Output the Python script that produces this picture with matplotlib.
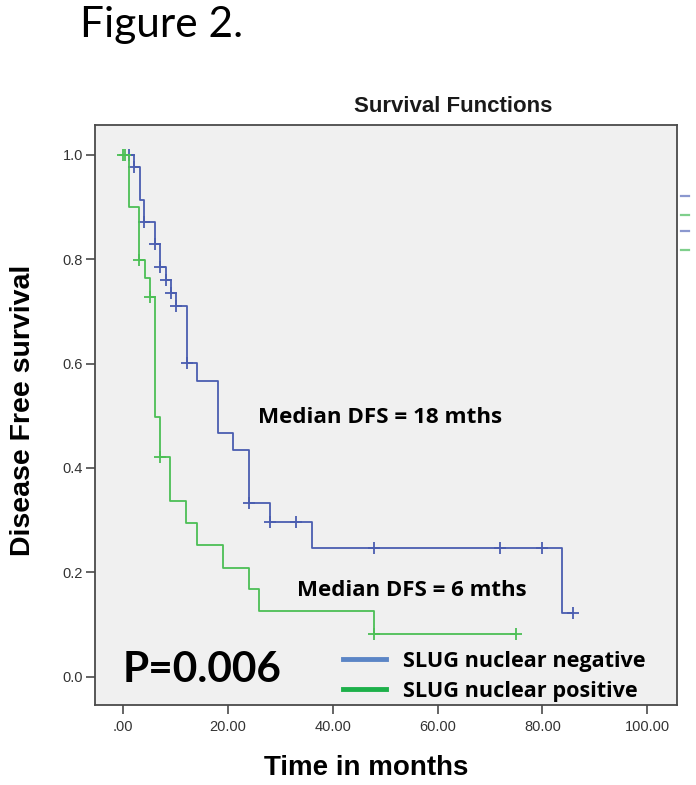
import numpy as np
import matplotlib
matplotlib.use("Agg")
import matplotlib.pyplot as plt
from matplotlib.lines import Line2D

# ---- data ----
neg_times = [0, 2.1, 3.2, 4.0, 6.0, 7.1, 8.1, 9.1, 10.0, 12.1, 14.1, 18.0, 21.0, 24.0, 28.1, 36.0, 83.8]
neg_surv = [1.0, 0.977, 0.914, 0.872, 0.830, 0.785, 0.761, 0.736, 0.710, 0.601, 0.567, 0.467, 0.434, 0.333, 0.296, 0.247, 0.123]
neg_censor = [1.1, 2.1, 4.0, 6.0, 7.1, 8.1, 9.1, 10.0, 12.1, 24.0, 28.1, 33.0, 47.8, 71.9, 79.9, 85.9]
neg_end = 85.9

pos_times = [0, 1.1, 3.0, 4.1, 5.1, 6.1, 7.1, 9.0, 11.9, 14.1, 19.0, 24.0, 26.0, 47.8]
pos_surv = [1.0, 0.899, 0.799, 0.764, 0.727, 0.497, 0.421, 0.336, 0.294, 0.252, 0.209, 0.168, 0.126, 0.082]
pos_censor = [-0.1, 0.3, 3.0, 5.1, 7.1, 47.8, 75.0]
pos_end = 75.0

x_ticks = [0, 20, 40, 60, 80, 100]
x_ticklabels = [".00", "20.00", "40.00", "60.00", "80.00", "100.00"]
y_ticks = [0.0, 0.2, 0.4, 0.6, 0.8, 1.0]
y_ticklabels = ["0.0", "0.2", "0.4", "0.6", "0.8", "1.0"]

group_labels = ["SLUG nuclear negative", "SLUG nuclear positive"]
median_texts = ["Median DFS = 18 mths", "Median DFS = 6 mths"]
p_text = "P=0.006"

BLUE = "#4a5db0"
GREEN = "#4cbf55"
LEG_BLUE = "#5b85c6"
LEG_GREEN = "#1db04a"

W, H = 696, 785
fig = plt.figure(figsize=(W / 100, H / 100), dpi=100)
fig.patch.set_facecolor("white")

L, R, T, B = 95, 677, 125, 705
ax = fig.add_axes([L / W, 1 - B / H, (R - L) / W, (B - T) / H])
ax.set_facecolor("#f0f0f0")
ax.set_xlim(-5.4, 105.7)
ax.set_ylim(-0.054, 1.057)


def km_draw(times, surv, end, censor, color, z):
    xs = list(times) + [end]
    ys = list(surv) + [surv[-1]]
    ax.step(xs, ys, where="post", color=color, lw=1.3, zorder=z)
    t = np.asarray(times)
    s = np.asarray(surv)
    idx = np.searchsorted(t, np.asarray(censor), side="right") - 1
    idx = np.clip(idx, 0, len(s) - 1)
    ax.plot(censor, s[idx], linestyle="none", marker="+", ms=8, mew=1.3,
            color=color, zorder=z + 0.5)


km_draw(neg_times, neg_surv, neg_end, neg_censor, BLUE, 3)
km_draw(pos_times, pos_surv, pos_end, pos_censor, GREEN, 4)

for sp in ax.spines.values():
    sp.set_color("#4a4a4a")
    sp.set_linewidth(1.3)

ax.set_xticks(x_ticks)
ax.set_xticklabels(x_ticklabels)
ax.set_yticks(y_ticks)
ax.set_yticklabels(y_ticklabels)
ax.tick_params(axis="both", direction="out", length=6.5, width=1.2, color="#4a4a4a",
               labelcolor="#333333", labelsize=10.5)
ax.tick_params(axis="x", pad=4)
ax.tick_params(axis="y", pad=2)
for lab in ax.get_xticklabels() + ax.get_yticklabels():
    lab.set_family("Liberation Sans")

# annotations (Calibri-like, wide)
ax.text(0.280, 0.487, median_texts[0], transform=ax.transAxes, family="Open Sans",
        fontweight="bold", fontsize=16.1, color="black", va="baseline")
ax.text(0.347, 0.188, median_texts[1], transform=ax.transAxes, family="Open Sans",
        fontweight="bold", fontsize=16.0, color="black", va="baseline")
ax.text(0.048, 0.040, p_text, transform=ax.transAxes, family="Lato",
        fontweight="bold", fontsize=30.5, color="black", va="baseline")

# legend inside the plot
handles = [Line2D([0], [0], color=LEG_BLUE, lw=3.5),
           Line2D([0], [0], color=LEG_GREEN, lw=3.5)]
leg = ax.legend(handles, group_labels, loc="lower left",
                bbox_to_anchor=(0.392, -0.028), frameon=False, handlelength=2.0,
                handletextpad=0.8, labelspacing=0.40,
                prop={"family": "Open Sans", "weight": "bold", "size": 15.6})

# little legend stubs outside the frame on the right
stub_y = [196, 215, 231, 250]
stub_c = ["#8b98cf", "#7fcf8c", "#8b98cf", "#7fcf8c"]
for yy, cc in zip(stub_y, stub_c):
    fig.add_artist(Line2D([681 / W, 689 / W], [1 - yy / H, 1 - yy / H],
                          color=cc, lw=1.6, transform=fig.transFigure))

# titles / labels
fig.text(80 / W, 1 - 37 / H, "Figure 2.", family="Lato", fontsize=30.5,
         color="black", va="baseline", ha="left")
fig.text(453 / W, 1 - 107 / H, "Survival Functions", family="Liberation Sans",
         fontweight="bold", fontsize=16, color="#1a1a1a", ha="center", va="center")
fig.text(366 / W, 1 - 768 / H, "Time in months", family="Liberation Sans",
         fontweight="bold", fontsize=20, color="black", ha="center", va="center")
fig.text(23 / W, 1 - 410 / H, "Disease Free survival", family="Liberation Sans",
         fontweight="bold", fontsize=20.5, color="black", ha="center", va="center",
         rotation=90)

fig.savefig("out.png", dpi=100, facecolor="white")
